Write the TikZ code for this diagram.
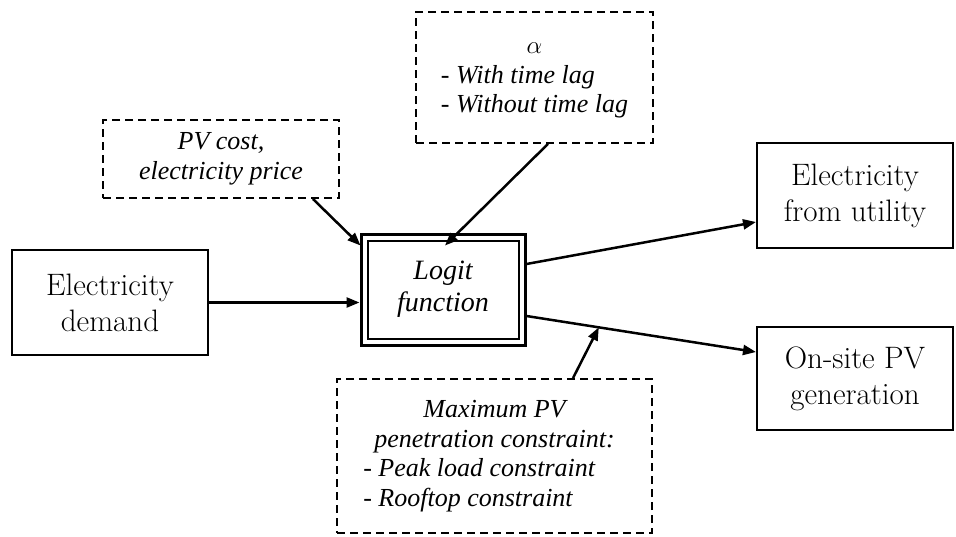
\documentclass[tikz,border=0pt]{standalone}
\usepackage{fontspec}
\newfontfamily\tnr{Liberation Serif}
\usetikzlibrary{arrows.meta,calc}
\begin{document}
\begin{tikzpicture}[x=1pt,y=-1pt,
  solidbox/.style={draw,line width=2pt,inner sep=0pt,align=center,font=\fontsize{31}{36}\selectfont},
  dashbox/.style={draw,dashed,dash pattern=on 8pt off 5pt,line width=1.8pt,inner sep=0pt,align=center,font=\tnr\itshape\fontsize{26}{29.5}\selectfont},
  conn/.style={line width=2.5pt,-{Triangle[length=13pt,width=10pt]}}]
\useasboundingbox (0,0) rectangle (956,536);
\node[solidbox,minimum width=196pt,minimum height=105pt] (demand) at (110,302.5) {Electricity\\demand};
\node[dashbox,minimum width=236pt,minimum height=78pt] (pvcost) at (221,159) {PV cost,\\electricity price};
\node[dashbox,minimum width=237pt,minimum height=131pt] (alpha) at (534.5,77.5)
  {\begin{tabular}{@{}l@{}}\multicolumn{1}{c}{$\alpha$}\\- With time lag\\- Without time lag\end{tabular}};
\node[draw,line width=3pt,minimum width=164pt,minimum height=111pt,inner sep=0pt] (logit) at (443,289.5) {};
\node[draw,line width=2pt,minimum width=151pt,minimum height=98pt,inner sep=0pt,align=center,
  font=\tnr\itshape\fontsize{28}{32}\selectfont] (logitin) at (443,289.5) {Logit\\function};
\node[solidbox,minimum width=196pt,minimum height=105pt] (util) at (855,195.5) {Electricity\\from utility};
\node[solidbox,minimum width=196pt,minimum height=103pt] (onsite) at (855,378.5) {On-site PV\\generation};
\node[dashbox,minimum width=315pt,minimum height=154pt] (maxpv) at (494.5,456)
  {\begin{tabular}{@{}l@{}}\multicolumn{1}{c}{Maximum PV}\\penetration constraint:\\\hspace*{-11pt}- Peak load constraint\\\hspace*{-11pt}- Rooftop constraint\end{tabular}};
\coordinate (pvs) at ($(logit.east)+(0,26.5)$);
\coordinate (pve) at ($(onsite.west)+(0,-26.5)$);
\coordinate (pvmid) at ($(pvs)!0.315!(pve)$);
\draw[conn] (demand.east) -- (logit.west |- demand.east);
\draw[conn] ($(pvcost.south east)+(-27,0)$) -- ($(logit.north west)+(1,13)$);
\draw[conn] ($(alpha.south)+(13.5,0)$) -- ($(logit.north)+(2,13)$);
\draw[conn] ($(logit.east)+(0,-25.5)$) -- ($(util.west)+(0,26.5)$);
\draw[conn] (pvs) -- (pve);
\draw[conn] ($(maxpv.north)+(78.5,0)$) -- (pvmid);
\end{tikzpicture}
\end{document}
